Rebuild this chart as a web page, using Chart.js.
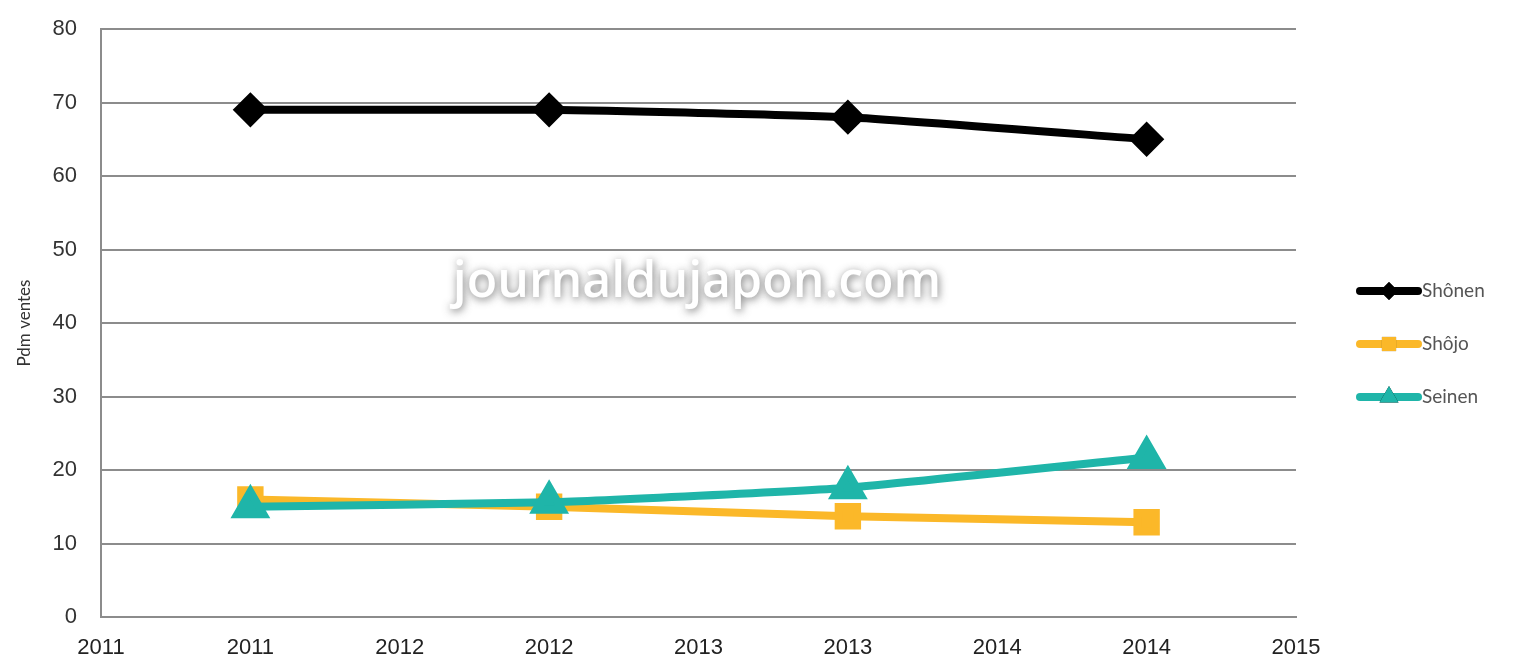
<!DOCTYPE html>
<html lang="fr">
<head>
    <meta charset="UTF-8">
    <title>Pdm ventes</title>
    <style>
        body {
            margin: 0;
            padding: 0;
            background-color: #fff;
        }

        #chart-box {
            width: 1513px;
            height: 666px;
        }
    </style>
</head>
<body>

    <div id="chart-box">
        <canvas id="pdmChart"></canvas>
    </div>

    <script src="https://cdn.jsdelivr.net/npm/chart.js"></script>
    <script>
        // x tick labels (the axis is 0..8, data sits on the odd slots)
        var tickLabels = ['2011', '2011', '2012', '2012', '2013', '2013', '2014', '2014', '2015'];
        var pointSlots = [1, 3, 5, 7];

        var shonenData = [69, 69, 68, 65];
        var shojoData = [16, 15, 13.7, 12.9];
        var seinenData = [15, 15.6, 17.6, 21.7];

        function toPoints(values) {
            return values.map(function (v, i) { return { x: pointSlots[i], y: v }; });
        }

        // watermark, drawn over the grid
        var watermark = {
            id: 'watermark',
            beforeDatasetsDraw: function (chart) {
                var ctx = chart.ctx;
                ctx.save();
                ctx.font = '600 50px "Open Sans", sans-serif';
                ctx.textAlign = 'center';
                ctx.textBaseline = 'middle';
                ctx.shadowColor = 'rgba(90, 90, 90, 0.85)';
                ctx.shadowBlur = 8;
                ctx.shadowOffsetX = 1;
                ctx.shadowOffsetY = 2;
                ctx.fillStyle = '#ffffff';
                ctx.fillText('journaldujapon.com', 697, 283);
                ctx.restore();
            }
        };

        // legend drawn as line + marker like the spreadsheet one
        var sideLegend = {
            id: 'sideLegend',
            afterDraw: function (chart) {
                var ctx = chart.ctx;
                var x0 = 1360, x1 = 1418, y = 291;
                chart.data.datasets.forEach(function (ds) {
                    ctx.save();
                    ctx.strokeStyle = ds.borderColor;
                    ctx.lineWidth = 8;
                    ctx.lineCap = 'round';
                    ctx.beginPath();
                    ctx.moveTo(x0, y);
                    ctx.lineTo(x1, y);
                    ctx.stroke();
                    Chart.helpers.drawPoint(ctx, {
                        pointStyle: ds.pointStyle,
                        rotation: ds.pointRotation || 0,
                        radius: ds.legendRadius,
                        borderWidth: 0
                    }, (x0 + x1) / 2, y);
                    ctx.fillStyle = ds.borderColor;
                    ctx.fill();
                    ctx.fillStyle = '#555';
                    ctx.font = '19px Lato, sans-serif';
                    ctx.textBaseline = 'middle';
                    ctx.fillText(ds.label, x1 + 4, y);
                    ctx.restore();
                    y += 53;
                });
            }
        };

        var ctx1 = document.getElementById('pdmChart').getContext('2d');
        var pdmChart = new Chart(ctx1, {
            type: 'line',
            data: {
                datasets: [{
                    label: 'Shônen',
                    data: toPoints(shonenData),
                    borderColor: '#000000',
                    backgroundColor: '#000000',
                    borderWidth: 8,
                    pointStyle: 'rectRot',
                    pointRadius: 12,
                    legendRadius: 9,
                    order: 2
                },
                {
                    label: 'Shôjo',
                    data: toPoints(shojoData),
                    borderColor: '#fbb829',
                    backgroundColor: '#fbb829',
                    borderWidth: 8,
                    pointStyle: 'rect',
                    pointRadius: 13,
                    legendRadius: 10,
                    order: 1
                },
                {
                    label: 'Seinen',
                    data: toPoints(seinenData),
                    borderColor: '#1fb5a9',
                    backgroundColor: '#1fb5a9',
                    borderWidth: 8,
                    pointStyle: 'triangle',
                    pointRadius: 15,
                    legendRadius: 11,
                    order: 0
                }]
            },
            options: {
                responsive: true,
                maintainAspectRatio: false,
                animation: false,
                layout: {
                    padding: { top: 29, right: 217, bottom: 0, left: 14 }
                },
                plugins: {
                    legend: { display: false },
                    tooltip: { enabled: false }
                },
                elements: {
                    line: { tension: 0.15, borderCapStyle: 'round', borderJoinStyle: 'round' },
                    point: { borderWidth: 0 }
                },
                scales: {
                    x: {
                        type: 'linear',
                        min: 0,
                        max: 8,
                        afterFit: function (scale) { scale.height = 49; },
                        ticks: {
                            stepSize: 1,
                            color: '#222',
                            padding: 18,
                            maxRotation: 0,
                            font: { family: '"Liberation Sans", Arial', size: 22 },
                            callback: function (value) { return tickLabels[value]; }
                        },
                        grid: { display: false, drawTicks: false },
                        border: { display: true, color: '#8c8c8c', width: 2 }
                    },
                    y: {
                        min: 0,
                        max: 80,
                        afterFit: function (scale) {
                            scale.width = 87;
                            scale.paddingTop = 0;
                            scale.paddingBottom = 0;
                        },
                        ticks: {
                            stepSize: 10,
                            color: '#333',
                            padding: 24,
                            font: { family: '"Liberation Sans", Arial', size: 22 }
                        },
                        grid: { color: '#8c8c8c', lineWidth: 2, drawTicks: false },
                        border: { display: true, color: '#8c8c8c', width: 2 },
                        title: {
                            display: true,
                            text: 'Pdm ventes',
                            color: '#333',
                            padding: { top: 0, bottom: 0 },
                            font: { family: 'Lato, sans-serif', size: 17 }
                        }
                    }
                }
            },
            plugins: [watermark, sideLegend]
        });
    </script>

</body>
</html>
